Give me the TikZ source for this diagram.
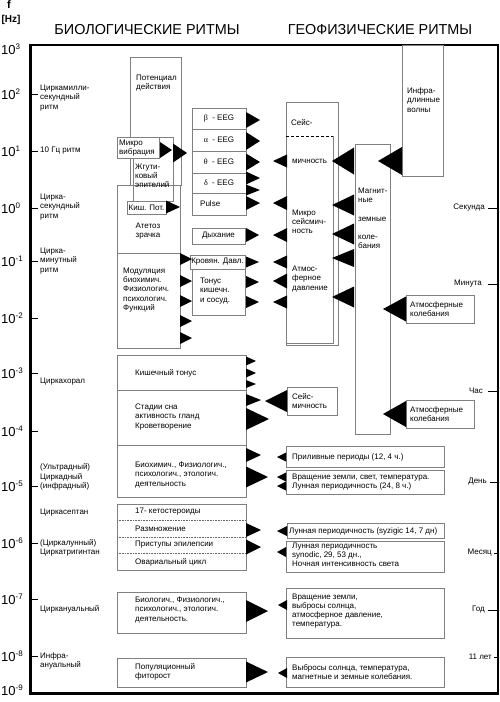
\documentclass[tikz,border=0pt]{standalone}
\usepackage{fontspec}
\setmainfont{Liberation Sans}
\newfontfamily\grk{Liberation Serif}
\usetikzlibrary{fit}
\tikzset{
  box/.style={draw=black!50, line width=0.6pt, inner sep=0pt},
  wbox/.style={box, fill=white},
  lbl/.style={font=\fontsize{8}{9.2}\selectfont, align=left, inner sep=0pt, anchor=west},
  clbl/.style={lbl, align=center, anchor=center},
  title/.style={font=\fontsize{14.4}{14.4}\selectfont, inner sep=0pt},
  power/.style={font=\fontsize{13}{13}\selectfont, inner sep=0pt, anchor=west},
  tick/.style={line width=0.8pt},
}
\newcommand{\rtri}[4]{\fill (#1,#2-#4/2) -- (#1+#3,#2) -- (#1,#2+#4/2) -- cycle;}
\newcommand{\ltri}[4]{\fill (#1,#2) -- (#1+#3,#2-#4/2) -- (#1+#3,#2+#4/2) -- cycle;}
\begin{document}
\begin{tikzpicture}[x=1pt, y=-1pt]
  \useasboundingbox (0,0) rectangle (500,702);
  % axis and titles
  \node[font=\bfseries\fontsize{11}{11}\selectfont, inner sep=0pt] (f) at (9,5) {f};
  \node[font=\bfseries\fontsize{10}{10}\selectfont, inner sep=0pt] (hz) at (11,20) {[Hz]};
  \node[title] (tbio) at (147,30) {БИОЛОГИЧЕСКИЕ РИТМЫ};
  \node[title] (tgeo) at (380,30) {ГЕОФИЗИЧЕСКИЕ РИТМЫ};
  \draw[line width=1.4pt] (30,45) -- (498,45) -- (498,693);
  \draw[line width=3pt] (30,44) -- (30,694.5);
  \draw[line width=3pt] (28.5,693) -- (498.7,693);
  \foreach \y in {94,151,208,261,318,373,431,486,543,599,656}
    \draw[tick] (30,\y) -- (38,\y);
  \foreach \x/\y in {488/208,488/284,488/391,490/482,494/553,488/610,494/657}
    \draw[tick] (\x,\y) -- (498,\y);
  \foreach \e/\y [count=\i] in {3/49,2/94,1/151,0/208,-1/261,-2/318,-3/373,-4/431,-5/486,-6/543,-7/599,-8/656,-9/690}
    \node[power] (p\i) at (1,\y) {10\raisebox{5pt}{\fontsize{8}{8}\selectfont\e}};

  % rhythm names, left
  \node[lbl] (l1) at (40,98) {Циркамилли-\\секундный\\ритм};
  \node[lbl] (l2) at (40,151) {10 Гц ритм};
  \node[lbl] (l3) at (40,207) {Цирка-\\секундный\\ритм};
  \node[lbl] (l4) at (40,261) {Цирка-\\минутный\\ритм};
  \node[lbl] (l5) at (40,382) {Циркахорал};
  \node[lbl] (l6) at (40,477) {(Ультрадный)\\Циркадный\\(инфрадный)};
  \node[lbl] (l7) at (40,513) {Циркасептан};
  \node[lbl] (l8) at (40,548) {(Циркалунный)\\Циркатригинтан};
  \node[lbl] (l9) at (40,609) {Циркануальный};
  \node[lbl] (l10) at (40,661) {Инфра-\\ануальный};

  % periods, right
  \node[lbl, anchor=east] (r1) at (485,208) {Секунда};
  \node[lbl, anchor=east] (r2) at (482,284) {Минута};
  \node[lbl, anchor=east] (r3) at (483,391) {Час};
  \node[lbl, anchor=east] (r4) at (487,482) {День};
  \node[lbl, anchor=east] (r5) at (492,553) {Месяц};
  \node[lbl, anchor=east] (r6) at (485,610) {Год};
  \node[lbl, anchor=east] (r7) at (492,657) {11 лет};

  % biological, upper part
  \node[box, fit={(130,57) (181,185)}] (pot) {};
  \node[lbl] (potT) at (136,83) {Потенциал\\действия};
  \node[box, fit={(117,185) (180,253)}] (atet) {};
  \node[clbl] (atetT) at (148,231) {Атетоз\\зрачка};
  \node[box, fit={(117,253) (180,348)}] (mod) {};
  \node[lbl] (modT) at (123,290) {Модуляция\\биохимич.\\Физиологич.\\психологич.\\Функций};
  \node[box, fit={(133,137) (173,201)}] (zhg) {};
  \node[lbl] (zhgT) at (135,176) {Жгути-\\ковый\\эпителий};
  \node[wbox, fit={(117,137) (159,158)}] (mikro) {};
  \node[lbl] (mikroT) at (119,148) {Микро\\вибрация};
  \node[wbox, fit={(127,201) (166,214)}] (kish) {};
  \node[clbl] (kishT) at (kish) {Киш. Пот.};

  \node[box, fit={(192,108) (246,215)}] (eeg) {};
  \foreach \y in {129,151,173,193}
    \draw[draw=black!50, line width=0.6pt] (192,\y) -- (246,\y);
  \node[clbl] (beta) at (219,118.5) {{\grk β}\ \ - EEG};
  \node[clbl] (alpha) at (219,140) {{\grk α}\ \ - EEG};
  \node[clbl] (theta) at (219,162) {{\grk θ}\ \ - EEG};
  \node[clbl] (delta) at (219,183) {{\grk δ}\ \ - EEG};
  \node[lbl] (pulse) at (200,204) {Pulse};
  \node[box, fit={(192,228) (245,244)}] (dyh) {};
  \node[clbl] (dyhT) at (dyh) {Дыхание};
  \node[box, fit={(190,255) (245,269)}] (krov) {};
  \node[clbl] (krovT) at (krov) {Кровян. Давл.};
  \node[box, fit={(192,269) (245,315)}] (ton) {};
  \node[lbl] (tonT) at (200,291) {Тонус\\кишечн.\\и сосуд.};

  % biological, lower part
  \node[box, fit={(117,355) (246,390)}] (kt) {};
  \node[lbl] (ktT) at (135,373) {Кишечный тонус};
  \node[box, fit={(117,390) (246,445)}] (sn) {};
  \node[lbl] (snT) at (135,417) {Стадии сна\\активность гланд\\Кроветворение};
  \node[box, fit={(117,445) (246,497)}] (bio) {};
  \node[lbl] (bioT) at (135,475) {Биохимич., Физиологич.,\\психологич., этологич.\\деятельность};
  \node[box, fit={(117,504) (246,570)}] (grp) {};
  \foreach \y in {520,537,553}
    \draw[draw=black!60, densely dotted, line width=0.6pt] (117,\y) -- (246,\y);
  \node[lbl] (ket) at (135,512) {17- кетостероиды};
  \node[lbl] (razm) at (135,529) {Размножение};
  \node[lbl] (epi) at (135,545) {Приступы эпилепсии};
  \node[lbl] (ovar) at (135,562) {Овариальный цикл};
  \node[box, fit={(117,592) (246,633)}] (biol) {};
  \node[lbl] (biolT) at (135,610) {Биологич., Физиологич.,\\психологич., этологич.\\деятельность.};
  \node[box, fit={(117,658) (246,687)}] (pop) {};
  \node[lbl] (popT) at (135,672) {Популяционный\\фитороcт};

  % geophysical
  \node[box, fit={(402,45) (443,176)}] (infra) {};
  \node[lbl] (infraT) at (407,100) {Инфра-\\длинные\\волны};
  \node[box, fit={(286,102) (338,345)}] (seis) {};
  \draw[draw=black!50, line width=0.6pt] (333,136) -- (333,343) -- (286,343);
  \draw[densely dashed, line width=0.9pt] (286,136) -- (333,136);
  \node[lbl] (seisT) at (291,123) {Сейс-};
  \node[lbl] (seisT2) at (292,161) {мичность};
  \node[lbl] (mseis) at (292,222) {Микро\\сейсмич-\\ность};
  \node[lbl] (atmd) at (292,279) {Атмос-\\ферное\\давление};
  \node[box, fit={(355,144) (390,434)}] (mag) {};
  \node[lbl] (magT1) at (358,195.5) {Магнит-\\ные};
  \node[lbl] (magT2) at (358,219) {земные};
  \node[lbl] (magT3) at (358,241.5) {коле-\\бания};
  \node[box, fit={(406,295) (474,323)}] (atm1) {};
  \node[lbl] (atm1T) at (410,309) {Атмосферные\\колебания};
  \node[box, fit={(406,400) (474,428)}] (atm2) {};
  \node[lbl] (atm2T) at (410,414) {Атмосферные\\колебания};
  \node[box, fit={(287,387) (337,415)}] (seis2) {};
  \node[lbl] (seis2T) at (292,401) {Сейс-\\мичность};
  \node[box, fit={(286,446) (444,467)}] (pril) {};
  \node[lbl] (prilT) at (292,457) {Приливные периоды (12, 4 ч.)};
  \node[box, fit={(286,470) (444,494)}] (vrash) {};
  \node[lbl] (vrashT) at (292,482) {Вращение земли, свет, температура.\\Лунная периодичность (24, 8 ч.)};
  \node[box, fit={(287,523) (444,538)}] (lun1) {};
  \node[lbl] (lun1T) at (289,531) {Лунная периодичность (syzigic 14, 7 дн)};
  \node[box, fit={(286,541) (444,572)}] (lun2) {};
  \node[lbl] (lun2T) at (292,555) {Лунная периодичность\\synodic, 29, 53 дн.,\\Ночная интенсивность света};
  \node[box, fit={(286,588) (444,638)}] (vr2) {};
  \node[lbl] (vr2T) at (292,611) {Вращение земли,\\выбросы солнца,\\атмосферное давление,\\температура.};
  \node[box, fit={(286,657) (444,687)}] (vyb) {};
  \node[lbl] (vybT) at (292,672) {Выбросы солнца, температура,\\магнетные и земные колебания.};

  % arrows to the right
  \rtri{160}{150}{12}{16} \rtri{173}{153}{14}{19} \rtri{166}{207}{14}{13}
  \rtri{246}{120}{14}{16} \rtri{246}{141}{14}{18} \rtri{246}{162}{14}{17}
  \rtri{246}{178}{14}{13} \rtri{246}{190}{14}{11} \rtri{246}{203}{14}{14}
  \rtri{246}{235}{13}{14} \rtri{246}{262}{13}{11} \rtri{246}{282}{13}{12} \rtri{246}{302}{13}{12}
  \rtri{180}{259}{12}{12} \rtri{180}{281}{12}{12} \rtri{180}{301}{12}{12}
  \rtri{180}{321}{12}{12} \rtri{180}{338}{12}{12}
  \rtri{246}{361}{10}{9} \rtri{246}{373}{10}{9} \rtri{246}{384}{10}{8}
  \rtri{246}{400}{15}{12} \rtri{246}{419}{23}{22}
  \rtri{246}{455}{15}{14} \rtri{246}{477}{22}{21}
  \rtri{246}{530}{15}{14} \rtri{246}{547}{15}{15}
  \rtri{246}{611}{22}{22} \rtri{246}{672}{22}{21}

  % arrows to the left
  \ltri{273}{161}{14}{13} \ltri{273}{203}{14}{14} \ltri{273}{235}{14}{14}
  \ltri{273}{262}{14}{13} \ltri{273}{281}{14}{15} \ltri{273}{302}{14}{13}
  \ltri{332}{161}{22}{27} \ltri{332}{205}{22}{21} \ltri{332}{234}{22}{21}
  \ltri{332}{258}{22}{18} \ltri{332}{297}{22}{21}
  \ltri{378}{161}{24}{28} \ltri{383}{309}{23}{25} \ltri{383}{414}{23}{26}
  \ltri{265}{401}{22}{22}
  \ltri{277}{457}{9}{9} \ltri{277}{477}{9}{9} \ltri{277}{486}{9}{9}
  \ltri{277}{531}{10}{10} \ltri{277}{552}{9}{10}
  \ltri{278}{605}{9}{10} \ltri{278}{673}{9}{10}
\end{tikzpicture}
\end{document}
